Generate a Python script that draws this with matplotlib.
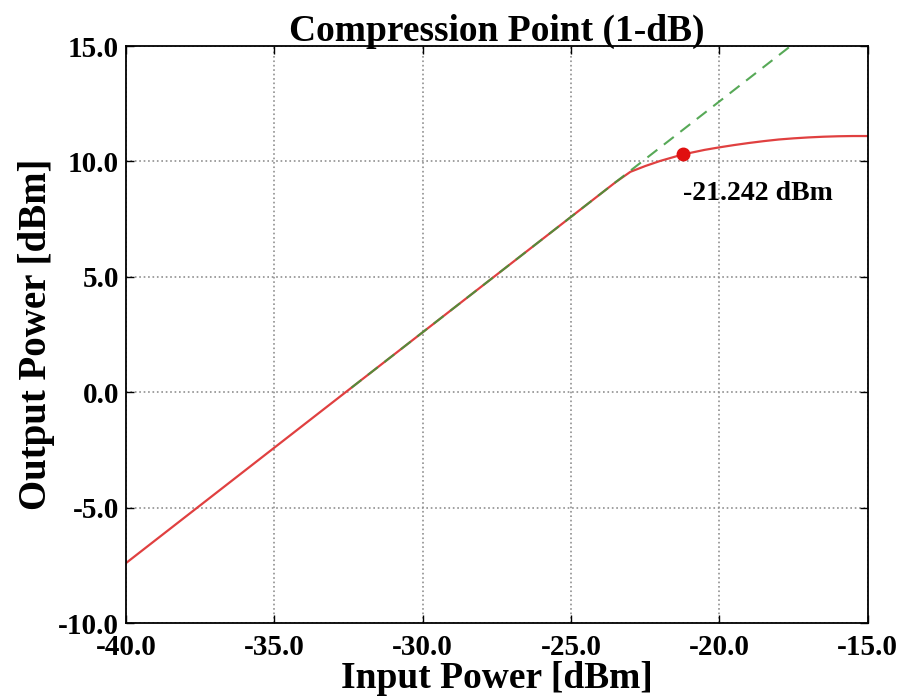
import matplotlib
matplotlib.use("Agg")
import matplotlib.pyplot as plt
from matplotlib.ticker import FormatStrFormatter

pin = [-40.0, -37.5, -35.0, -32.5, -30.0, -27.5, -25.0, -24.0, -23.5, -23.0,
       -22.5, -22.0, -21.242, -20.5, -20.0, -19.5, -19.0, -18.5, -18.0,
       -17.5, -17.0, -16.5, -16.0, -15.5, -15.0]
pout = [-7.4, -4.9, -2.4, 0.1, 2.6, 5.1, 7.6, 8.6, 9.1, 9.55,
        9.8, 10.02, 10.3, 10.5, 10.61, 10.71, 10.8, 10.88, 10.95,
        11.0, 11.04, 11.07, 11.09, 11.1, 11.1]

# ideal linear gain extension
lin_x = [-32.4, -17.6]
lin_y = [0.2, 15.0]

p1db_x = -21.242
p1db_y = 10.3
p1db_label = "-21.242 dBm"

xticks = [-40, -35, -30, -25, -20, -15]
yticks = [-10, -5, 0, 5, 10, 15]

plt.rcParams['font.family'] = ['Liberation Serif', 'DejaVu Serif']
plt.rcParams['font.weight'] = 'bold'
plt.rcParams['axes.unicode_minus'] = False

fig = plt.figure(figsize=(9.03, 6.97), dpi=100)
ax = fig.add_axes([0.1395, 0.106, 0.8215, 0.828])

ax.plot(pin, pout, '-', color='#e04040', lw=1.6, zorder=2)
ax.plot(lin_x, lin_y, '--', color='#3a9a3a', lw=1.5, dashes=(6, 4),
        alpha=0.85, zorder=3)
ax.plot([p1db_x], [p1db_y], 'o', color='#e01010', markersize=9, zorder=4)
ax.text(p1db_x, 8.6, p1db_label, ha='left', va='center', fontsize=20,
        fontweight='bold')

ax.set_xlim(-40, -15)
ax.set_ylim(-10, 15)
ax.set_xticks(xticks)
ax.set_yticks(yticks)
ax.xaxis.set_major_formatter(FormatStrFormatter('%.1f'))
ax.yaxis.set_major_formatter(FormatStrFormatter('%.1f'))
ax.tick_params(direction='in', length=6, width=1, top=True, right=True,
               labelsize=21)
ax.tick_params(axis='x', pad=8)
ax.tick_params(axis='y', pad=5)
for lab in ax.get_xticklabels() + ax.get_yticklabels():
    lab.set_fontweight('bold')
ax.grid(True, linestyle=':', color='#909090', lw=1.2)
for s in ax.spines.values():
    s.set_linewidth(1.3)

ax.set_title("Compression Point (1-dB)", fontsize=27, fontweight='bold', pad=4)
ax.set_xlabel("Input Power [dBm]", fontsize=27, fontweight='bold', labelpad=0)
ax.set_ylabel("Output Power [dBm]", fontsize=28, fontweight='bold', labelpad=2)

fig.savefig("out.png", dpi=100)
